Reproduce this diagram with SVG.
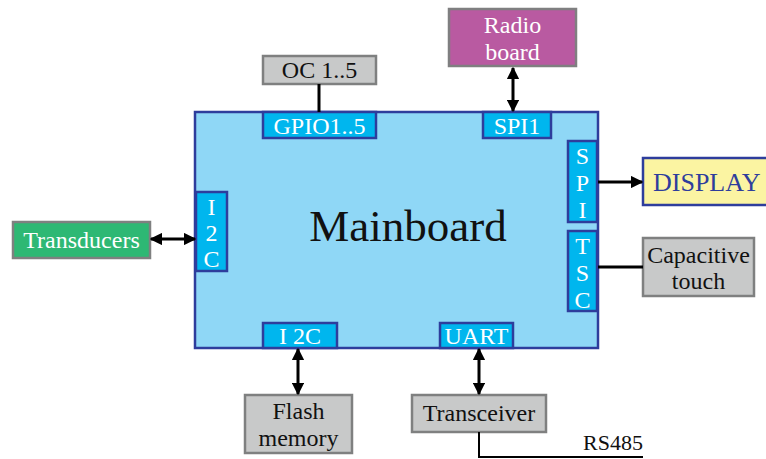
<svg xmlns="http://www.w3.org/2000/svg" width="766" height="459" viewBox="0 0 766 459">
  <style>
    text { font-family: "Liberation Serif", "DejaVu Serif", serif; }
    .main { fill: #8fd7f6; stroke: #2e3d9c; stroke-width: 2.5; }
    .port { fill: #00b6ee; stroke: #2e3d9c; stroke-width: 2.5; }
    .portText { fill: #ffffff; font-size: 24px; text-anchor: middle; }
    .grey { fill: #c8c9c9; stroke: #7f8080; stroke-width: 2.5; }
    .dark { fill: #111111; font-size: 24px; text-anchor: middle; }
    .light { fill: #ffffff; font-size: 24px; text-anchor: middle; }
    .wire { stroke: #000000; stroke-width: 3; fill: none; }
  </style>
  <defs>
    <marker id="arrow" viewBox="0 0 10 10" refX="9" refY="5" markerWidth="4.2" markerHeight="4.2" orient="auto-start-reverse">
      <path d="M0,0 L10,5 L0,10 z" fill="#000"/>
    </marker>
  </defs>

  <!-- board outline and title -->
  <g id="mainboard">
    <rect class="main" x="195" y="112" width="403" height="236"/>
    <text x="408" y="241" font-size="45" fill="#111" text-anchor="middle">Mainboard</text>
  </g>

  <!-- interface ports on the board edge -->
  <g id="port-gpio">
    <rect class="port" x="263" y="112" width="113" height="26"/>
    <text class="portText" x="319.5" y="134">GPIO1..5</text>
  </g>
  <g id="port-spi1">
    <rect class="port" x="483" y="112" width="68" height="26"/>
    <text class="portText" x="517" y="134">SPI1</text>
  </g>
  <g id="port-spi-right">
    <rect class="port" x="568" y="141" width="29" height="81"/>
    <text class="portText" x="582.5" y="164">S</text>
    <text class="portText" x="582.5" y="191">P</text>
    <text class="portText" x="582.5" y="218">I</text>
  </g>
  <g id="port-tsc">
    <rect class="port" x="568" y="231" width="29" height="80"/>
    <text class="portText" x="582.5" y="254">T</text>
    <text class="portText" x="582.5" y="281">S</text>
    <text class="portText" x="582.5" y="308">C</text>
  </g>
  <g id="port-i2c-left">
    <rect class="port" x="196" y="192" width="31" height="79"/>
    <text class="portText" x="211.5" y="215">I</text>
    <text class="portText" x="211.5" y="241">2</text>
    <text class="portText" x="211.5" y="267">C</text>
  </g>
  <g id="port-i2c-bottom">
    <rect class="port" x="263" y="323" width="74" height="25"/>
    <text class="portText" x="300" y="344">I 2C</text>
  </g>
  <g id="port-uart">
    <rect class="port" x="440" y="323" width="73" height="25"/>
    <text class="portText" x="476.5" y="344">UART</text>
  </g>

  <!-- peripherals -->
  <g id="oc">
    <rect class="grey" x="263" y="56" width="113" height="28"/>
    <text class="dark" x="319.5" y="78">OC 1..5</text>
  </g>
  <g id="radio">
    <rect x="449" y="9" width="127" height="57" fill="#b95aa1" stroke="#7f7f80" stroke-width="2.5"/>
    <text class="light" x="512.5" y="33">Radio</text>
    <text class="light" x="512.5" y="60">board</text>
  </g>
  <g id="display">
    <!-- box runs off the right edge: fill plus an open outline -->
    <rect x="643" y="158" width="123" height="47" fill="#fbf4a2"/>
    <path d="M766,158 H643 V205 H766" fill="none" stroke="#2e3d9c" stroke-width="2.5"/>
    <text x="653" y="191" font-size="26" fill="#2e3d9c">DISPLAY</text>
  </g>
  <g id="capacitive">
    <rect class="grey" x="643" y="238" width="111" height="58"/>
    <text class="dark" x="698.5" y="263">Capacitive</text>
    <text class="dark" x="698.5" y="289">touch</text>
  </g>
  <g id="transducers">
    <rect x="13" y="222" width="137" height="36" fill="#2eb874" stroke="#7f8080" stroke-width="2.5"/>
    <text class="light" x="81.5" y="248">Transducers</text>
  </g>
  <g id="flash">
    <rect class="grey" x="245" y="395" width="107" height="58"/>
    <text class="dark" x="298.5" y="419">Flash</text>
    <text class="dark" x="298.5" y="446">memory</text>
  </g>
  <g id="transceiver">
    <rect class="grey" x="412" y="395" width="134" height="37"/>
    <text class="dark" x="479" y="421">Transceiver</text>
  </g>

  <!-- connectors -->
  <g id="connectors">
    <line class="wire" x1="319" y1="84" x2="319" y2="112"/>
    <line class="wire" x1="513" y1="68" x2="513" y2="111" marker-start="url(#arrow)" marker-end="url(#arrow)"/>
    <line class="wire" x1="598" y1="182" x2="642" y2="182" marker-end="url(#arrow)"/>
    <line class="wire" x1="598" y1="267" x2="643" y2="267"/>
    <line class="wire" x1="151" y1="239" x2="195" y2="239" marker-start="url(#arrow)" marker-end="url(#arrow)"/>
    <line class="wire" x1="298" y1="349" x2="298" y2="394" marker-start="url(#arrow)" marker-end="url(#arrow)"/>
    <line class="wire" x1="479" y1="349" x2="479" y2="394" marker-start="url(#arrow)" marker-end="url(#arrow)"/>
    <polyline points="479,432 479,457 643,457" fill="none" stroke="#000" stroke-width="2"/>
    <text x="643" y="450" font-size="22" fill="#111" text-anchor="end">RS485</text>
  </g>
</svg>
